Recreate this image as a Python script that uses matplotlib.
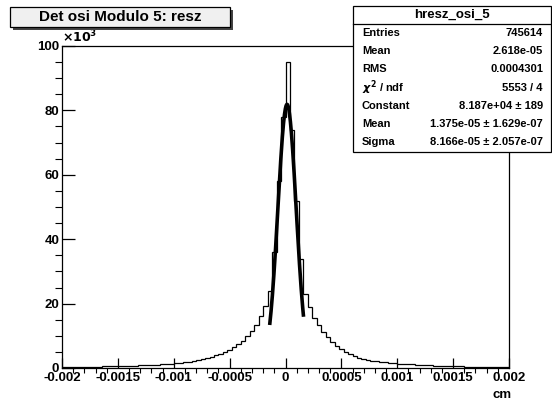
import numpy as np
import matplotlib.pyplot as plt
from matplotlib.patches import Rectangle
from matplotlib.ticker import MultipleLocator

plt.rcParams["font.family"] = ["Liberation Sans", "DejaVu Sans"]
plt.rcParams["font.weight"] = "bold"

W, H = 552, 405

# histogram: 100 bins on [-0.002, 0.002], counts in units of 10^3
x_lo, x_hi, n_bins = -0.002, 0.002, 100
counts = [
    0.30, 0.30, 0.32, 0.35, 0.35, 0.38, 0.40, 0.42, 0.45, 0.48,
    0.50, 0.55, 0.58, 0.62, 0.66, 0.70, 0.75, 0.80, 0.86, 0.92,
    1.00, 1.08, 1.17, 1.27, 1.38, 1.50, 1.65, 1.82, 2.00, 2.20,
    2.45, 2.75, 3.10, 3.50, 3.95, 4.45, 5.00, 5.70, 6.50, 7.40,
    8.50, 9.90, 11.5, 13.5, 16.0, 19.3, 24.0, 36.0, 58.0, 78.0,
    95.0, 74.0, 52.0, 34.0, 23.0, 18.8, 15.6, 13.2, 11.3, 9.70,
    8.20, 6.90, 5.80, 4.90, 4.20, 3.60, 3.15, 2.80, 2.50, 2.25,
    2.05, 1.90, 1.75, 1.60, 1.48, 1.38, 1.28, 1.20, 1.10, 1.02,
    0.95, 0.88, 0.80, 0.74, 0.68, 0.63, 0.60, 0.56, 0.52, 0.49,
    0.46, 0.43, 0.41, 0.39, 0.37, 0.35, 0.34, 0.32, 0.31, 0.30,
]

# gaussian fit (constant in units of 10^3)
fit_const = 81.87
fit_mean = 1.375e-05
fit_sigma = 8.166e-05
fit_range = (-1.4e-4, 1.6e-4)

x_ticks = [-0.002, -0.0015, -0.001, -0.0005, 0, 0.0005, 0.001, 0.0015, 0.002]
x_labels = ["-0.002", "-0.0015", "-0.001", "-0.0005", "0",
            "0.0005", "0.001", "0.0015", "0.002"]
y_ticks = [0, 20, 40, 60, 80, 100]

title = "Det osi Modulo 5: resz"
stats_name = "hresz_osi_5"
stats_rows = [
    ("Entries", "745614"),
    ("Mean", "2.618e-05"),
    ("RMS", "0.0004301"),
    (r"$\chi^2$ / ndf", "5553 / 4"),
    ("Constant", "8.187e+04 \u00b1 189"),
    ("Mean", "1.375e-05 \u00b1 1.629e-07"),
    ("Sigma", "8.166e-05 \u00b1 2.057e-07"),
]


def fx(px):
    return px / W


def fy(py):
    return 1 - py / H


fig = plt.figure(figsize=(W / 100, H / 100), dpi=100)
ax = fig.add_axes([fx(62), fy(368), fx(509 - 62), (368 - 46) / H])

edges = np.linspace(x_lo, x_hi, n_bins + 1)
ax.stairs(counts, edges, color="black", lw=0.9)

xf = np.linspace(fit_range[0], fit_range[1], 200)
yf = fit_const * np.exp(-0.5 * ((xf - fit_mean) / fit_sigma) ** 2)
ax.plot(xf, yf, color="black", lw=2.6)

ax.set_xlim(x_lo, x_hi)
ax.set_ylim(0, 100)
ax.set_xticks(x_ticks)
ax.set_xticklabels(x_labels)
ax.set_yticks(y_ticks)
ax.xaxis.set_minor_locator(MultipleLocator(0.0001))
ax.yaxis.set_minor_locator(MultipleLocator(5))
ax.tick_params(axis="both", direction="in", labelsize=9.5, width=0.9)
ax.tick_params(axis="x", which="major", length=7, pad=3)
ax.tick_params(axis="x", which="minor", length=3.5, width=0.8)
ax.tick_params(axis="y", which="major", length=9.5, pad=2)
ax.tick_params(axis="y", which="minor", length=4.8, width=0.8)
for s in ax.spines.values():
    s.set_linewidth(0.9)

fig.text(fx(502), fy(395), "cm", ha="center", va="center", fontsize=9.5)
fig.text(fx(62), fy(37), r"$\times10^{3}$", ha="left", va="center",
         fontsize=9)

# title pave with shadow
fig.patches.append(Rectangle((fx(13), fy(30)), fx(220), 20 / H,
                             transform=fig.transFigure, fc="#444444",
                             ec="none", zorder=5))
fig.patches.append(Rectangle((fx(10), fy(27)), fx(220), 20 / H,
                             transform=fig.transFigure, fc="#f0f0f0",
                             ec="black", lw=0.9, zorder=6))
fig.text(fx(120), fy(17), title, ha="center", va="center", fontsize=11,
         zorder=7)

# stats box
box_l, box_r, box_t, box_b = 353, 551, 6, 152
fig.patches.append(Rectangle((fx(box_l), fy(box_b)), fx(box_r - box_l),
                             (box_b - box_t) / H, transform=fig.transFigure,
                             fc="white", ec="black", lw=0.9, zorder=6))
fig.add_artist(plt.Line2D([fx(box_l), fx(box_r)], [fy(24), fy(24)],
                          color="black", lw=0.9, zorder=7))
fig.text(fx((box_l + box_r) / 2), fy(15), stats_name, ha="center",
         va="center", fontsize=9.5, zorder=8)
for i, (name, val) in enumerate(stats_rows):
    yy = fy(33 + i * 18.2)
    fig.text(fx(362), yy, name, ha="left", va="center", fontsize=8,
             zorder=8)
    fig.text(fx(543), yy, val, ha="right", va="center", fontsize=8,
             zorder=8)

fig.savefig("out.png", dpi=100)
